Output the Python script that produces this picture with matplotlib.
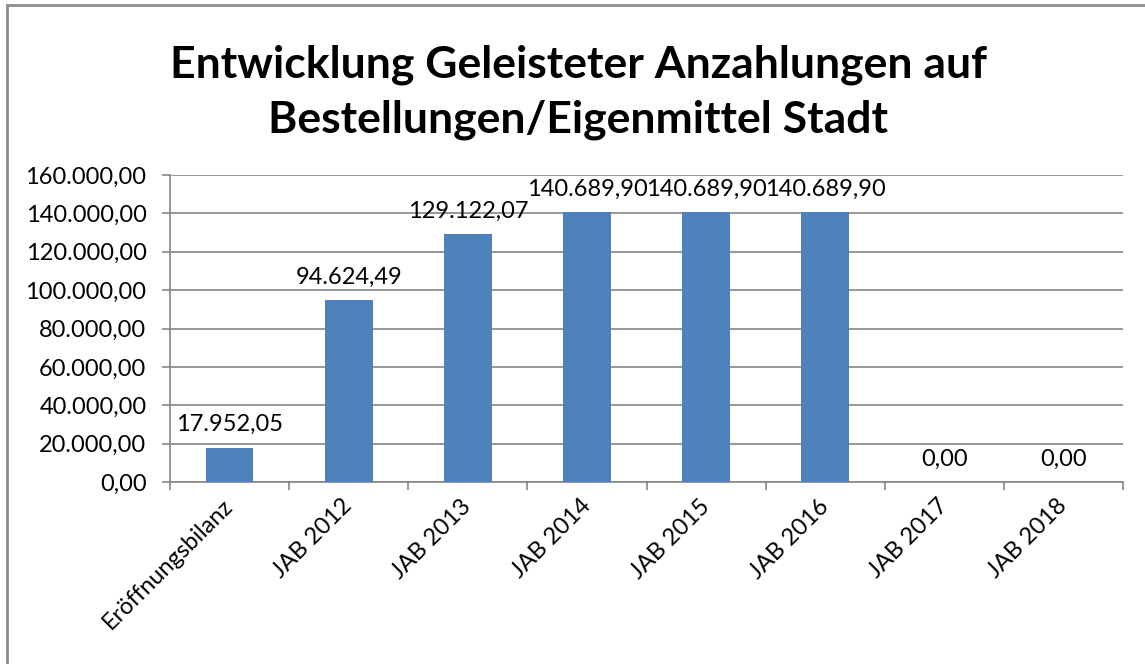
import matplotlib
matplotlib.use("Agg")
import matplotlib.pyplot as plt
from matplotlib.patches import Rectangle
from matplotlib.ticker import FuncFormatter

categories = ["Eröffnungsbilanz", "JAB 2012", "JAB 2013", "JAB 2014",
              "JAB 2015", "JAB 2016", "JAB 2017", "JAB 2018"]
values = [17952.05, 94624.49, 129122.07, 140689.90,
          140689.90, 140689.90, 0.0, 0.0]
y_ticks = [0, 20000, 40000, 60000, 80000, 100000, 120000, 140000, 160000]

title = "Entwicklung Geleisteter Anzahlungen auf\nBestellungen/Eigenmittel Stadt"


def de_format(v, pos=None):
    s = "{:,.2f}".format(v)
    return s.replace(",", "X").replace(".", ",").replace("X", ".")


plt.rcParams['font.family'] = ['Lato', 'DejaVu Sans']

fig = plt.figure(figsize=(11.45, 6.64), dpi=100)
ax = fig.add_axes([0.1485, 0.2741, 0.8323, 0.4623])

bar_color = "#4F81BD"
grid_color = "#868686"

x = list(range(len(categories)))
ax.bar(x, values, width=0.4, color=bar_color, zorder=3)

for xi, v in zip(x, values):
    ax.annotate(de_format(v), (xi, v), xytext=(0, 9), textcoords="offset points",
                ha="center", va="bottom", fontsize=17, color="black", zorder=4)

ax.set_xlim(-0.5, len(categories) - 0.5)
ax.set_ylim(0, 160000)
ax.set_yticks(y_ticks)
ax.yaxis.set_major_formatter(FuncFormatter(de_format))
ax.yaxis.grid(True, color=grid_color, linewidth=1.2, zorder=0)

ax.set_xticks(x)
ax.set_xticklabels(categories, rotation=45, ha="right", va="center",
                   rotation_mode="anchor", fontsize=17)
ax.tick_params(axis="x", length=0, pad=15)
ax.set_xticks([i - 0.5 for i in range(len(categories) + 1)], minor=True)
ax.tick_params(axis="x", which="minor", length=6, width=1.2, color=grid_color)
ax.tick_params(axis="y", length=6, width=1.2, color=grid_color, labelsize=17, pad=11)

for side in ["top", "right"]:
    ax.spines[side].set_visible(False)
for side in ["left", "bottom"]:
    ax.spines[side].set_color(grid_color)
    ax.spines[side].set_linewidth(1.2)

fig.text(0.505, 0.861, title, ha="center", va="center", fontsize=32,
         fontweight="bold", linespacing=1.42)

# chart border (runs off the right and bottom edges)
fig.patches.append(Rectangle((7 / 1145, -0.05), 1.1, 1 - 5 / 664 + 0.05,
                             transform=fig.transFigure, fill=False,
                             edgecolor="#8C8C8C", linewidth=2))

fig.savefig("out.png", dpi=100)
